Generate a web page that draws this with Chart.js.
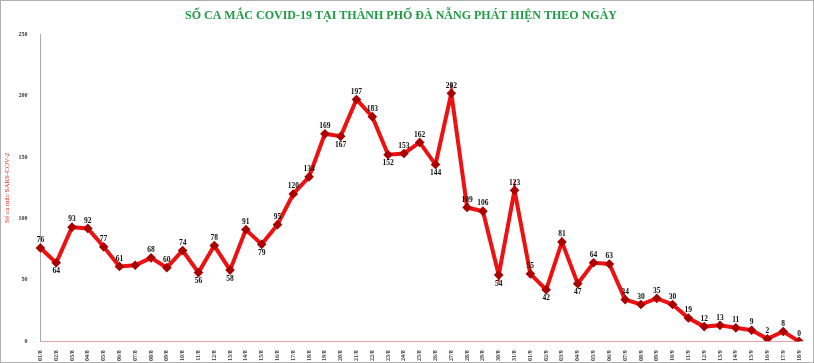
<!DOCTYPE html>
<html>
<head>
<meta charset="utf-8">
<script src="https://cdn.jsdelivr.net/npm/chart.js@4/dist/chart.umd.min.js"></script>
<style>
  html, body { margin: 0; padding: 0; background: #fff; }
  #wrap { width: 812px; height: 361px; border: 1px solid #b0b0b0; position: relative; }
</style>
</head>
<body>
<div id="wrap"><canvas id="chart" width="812" height="361"></canvas></div>
<script>
// ngay (dates)
const days = [
  '01/8','02/8','03/8','04/8','05/8','06/8','07/8','08/8','09/8','10/8',
  '11/8','12/8','13/8','14/8','15/8','16/8','17/8','18/8','19/8','20/8',
  '21/8','22/8','23/8','24/8','25/8','26/8','27/8','28/8','29/8','30/8','31/8',
  '01/9','02/9','03/9','04/9','05/9','06/9','07/9','08/9','09/9','10/9',
  '11/9','12/9','13/9','14/9','15/9','16/9','17/9','18/9'
]

// so ca mac moi ngay
const cases = [
  76, 64, 93, 92, 77, 61, 62, 68, 60, 74,
  56, 78, 58, 91, 79, 95, 120, 134, 169, 167,
  197, 183, 152, 153, 162, 144, 202, 109, 106, 54, 123,
  55, 42, 81, 47, 64, 63, 34, 30, 35, 30,
  19, 12, 13, 11, 9, 2, 8, 0
]

const yTicks = [0, 50, 100, 150, 200, 250]

const serif = "'Liberation Serif', 'Times New Roman', serif"

// draw the value next to each point
const valueLabels = {
  id: 'valueLabels',
  afterDatasetsDraw(chart) {
    const ctx = chart.ctx
    const meta = chart.getDatasetMeta(0)
    ctx.save()
    ctx.font = 'bold 7.5px ' + serif
    ctx.fillStyle = '#111'
    ctx.textAlign = 'center'
    meta.data.forEach((pt, i) => {
      const v = cases[i]
      if (i == 6) return // not labelled in the original
      const prev = i > 0 ? cases[i - 1] : v + 1
      const next = i < cases.length - 1 ? cases[i + 1] : v + 1
      const isLow = v < prev && v < next && (prev - v > 8 || next - v > 8) && i != 5 && i != 8
      if (isLow) {
        ctx.textBaseline = 'top'
        ctx.fillText(v, pt.x, pt.y + 5)
      } else {
        ctx.textBaseline = 'bottom'
        ctx.fillText(v, pt.x, pt.y - 4)
      }
    })
    ctx.restore()
  }
}

new Chart(document.getElementById('chart'), {
  type: 'line',
  data: {
    labels: days,
    datasets: [{
      data: cases,
      borderColor: '#ee1111',
      borderWidth: 4,
      pointRadius: 2,
      pointBackgroundColor: '#aa0000',
      pointBorderColor: '#aa0000',
      pointStyle: 'rectRot',
      tension: 0
    }]
  },
  options: {
    responsive: false,
    animation: false,
    layout: { padding: { left: 2, right: 14, bottom: 0 } },
    plugins: {
      legend: { display: false },
      tooltip: { enabled: false },
      title: {
        display: true,
        text: 'SỐ CA MẮC COVID-19 TẠI THÀNH PHỐ ĐÀ NẴNG PHÁT HIỆN THEO NGÀY',
        color: '#1f9a45',
        font: { family: serif, size: 12, weight: 'bold' },
        padding: { top: 8, bottom: 11 }
      }
    },
    scales: {
      x: {
        offset: false,
        grid: { display: false },
        border: { color: '#e8a0a8', width: 1 },
        ticks: {
          color: '#333',
          font: { family: serif, size: 6, weight: 'bold' },
          maxRotation: 90,
          minRotation: 90,
          autoSkip: false,
          padding: 1
        }
      },
      y: {
        min: 0,
        max: 250,
        afterBuildTicks(axis) { axis.ticks = yTicks.map(v => ({ value: v })) },
        grid: { display: false },
        border: { color: '#aaa', width: 1 },
        title: {
          display: true,
          text: 'Số ca mắc SARS-COV-2',
          color: '#ee2222',
          font: { family: serif, size: 7 },
          padding: { top: 0, bottom: 2 }
        },
        ticks: {
          color: '#333',
          font: { family: serif, size: 6, weight: 'bold' },
          padding: 5
        }
      }
    }
  },
  plugins: [valueLabels]
})
</script>
</body>
</html>
